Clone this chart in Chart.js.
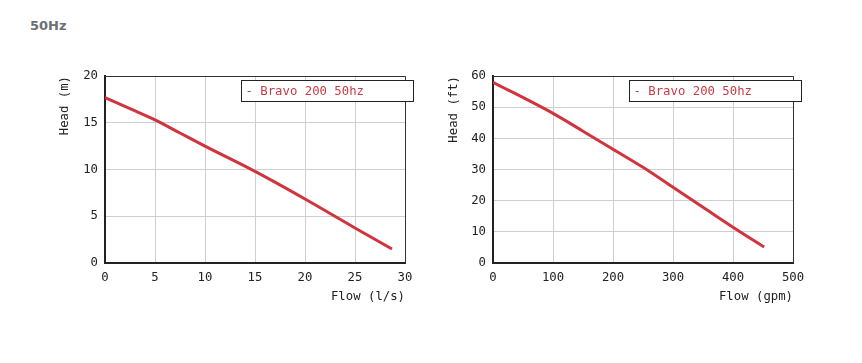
<!DOCTYPE html>
<html>
<head>
<meta charset="utf-8">
<script src="https://cdn.jsdelivr.net/npm/chart.js@4/dist/chart.umd.min.js"></script>
<style>
  html,body{margin:0;padding:0;background:#fff;width:862px;height:363px;overflow:hidden;}
  #title{position:absolute;left:30px;top:18px;font-family:"DejaVu Sans",Verdana,sans-serif;font-weight:bold;font-size:13px;color:#6b6f76;}
  canvas{position:absolute;top:0;}
  #c1{left:0;}
  #c2{left:431px;}
</style>
</head>
<body>
<div id="title">50Hz</div>
<canvas id="c1" width="431" height="320"></canvas>
<canvas id="c2" width="431" height="320"></canvas>
<script>
// ---- data ----
const seriesLabel = 'Bravo 200 50hz';
const flowLs = [0, 2.5, 5, 7.5, 10, 15, 20, 25, 28.7];
const headM = [17.7, 16.5, 15.3, 13.9, 12.5, 9.8, 6.85, 3.75, 1.5];
const flowGpm = [0, 100, 150, 200, 250, 300, 350, 400, 452];
const headFt = [58.0, 48.0, 42.3, 36.5, 30.7, 24.3, 17.9, 11.5, 5.1];
const xTitleMetric = 'Flow (l/s)';
const yTitleMetric = 'Head (m)';
const xTitleUS = 'Flow (gpm)';
const yTitleUS = 'Head (ft)';

const FONT = '"DejaVu Sans Mono", "Liberation Mono", monospace';
const LINE_COLOR = '#d0343c';
const TEXT_COLOR = '#222';

const frameLegend = {
  id: 'frameLegend',
  afterDraw(chart) {
    const ctx = chart.ctx, a = chart.chartArea;
    ctx.save();
    ctx.strokeStyle = '#333';
    ctx.lineWidth = 1;
    ctx.beginPath();
    ctx.moveTo(Math.round(a.left) , Math.round(a.top) + 0.5);
    ctx.lineTo(Math.round(a.right) + 0.5, Math.round(a.top) + 0.5);
    ctx.lineTo(Math.round(a.right) + 0.5, Math.round(a.bottom));
    ctx.stroke();
    // legend box
    const bx = Math.round(a.right - 164) + 0.5, by = Math.round(a.top + 4) + 0.5;
    const bw = 172, bh = 21;
    ctx.fillStyle = '#fff';
    ctx.fillRect(bx, by, bw, bh);
    ctx.strokeStyle = '#222';
    ctx.strokeRect(bx, by, bw, bh);
    ctx.fillStyle = '#c83a44';
    ctx.font = '12.3px ' + FONT;
    ctx.textBaseline = 'middle';
    ctx.textAlign = 'left';
    ctx.fillText('- ' + chart.data.datasets[0].label, bx + 4, by + bh / 2 + 0.5);
    ctx.restore();
  }
};

function makeChart(id, xs, ys, xMax, xStep, yMax, yStep, xTitle, yTitle, yAxisWidth, yTitlePad, rightPad) {
  const pts = xs.map((x, i) => ({x: x, y: ys[i]}));
  return new Chart(document.getElementById(id), {
    type: 'line',
    data: {datasets: [{
      label: seriesLabel,
      data: pts,
      borderColor: LINE_COLOR,
      borderWidth: 3,
      pointRadius: 0,
      cubicInterpolationMode: 'monotone',
      fill: false
    }]},
    options: {
      responsive: false,
      animation: false,
      devicePixelRatio: 1,
      layout: {padding: {top: 76, right: rightPad, left: 0, bottom: 0}},
      plugins: {legend: {display: false}, tooltip: {enabled: false}},
      scales: {
        x: {
          type: 'linear', min: 0, max: xMax,
          ticks: {stepSize: xStep, color: TEXT_COLOR, font: {family: FONT, size: 12.3}, padding: 7, maxRotation: 0},
          grid: {color: '#cfcfcf', lineWidth: 1, drawTicks: false},
          border: {color: '#222', width: 2},
          title: {display: true, text: xTitle, align: 'end', color: TEXT_COLOR, font: {family: FONT, size: 12.3}, padding: {top: 0, bottom: 16}},
          afterFit(s) { s.height = 57; }
        },
        y: {
          type: 'linear', min: 0, max: yMax,
          ticks: {stepSize: yStep, color: TEXT_COLOR, font: {family: FONT, size: 12.3}, padding: 7},
          grid: {color: '#cfcfcf', lineWidth: 1, drawTicks: false},
          border: {color: '#222', width: 2},
          title: {display: true, text: yTitle, align: 'end', color: TEXT_COLOR, font: {family: FONT, size: 12.3}, padding: {top: yTitlePad, bottom: 0}},
          afterFit(s) { s.width = yAxisWidth; }
        }
      }
    },
    plugins: [frameLegend]
  });
}

makeChart('c1', flowLs, headM, 30, 5, 20, 5, xTitleMetric, yTitleMetric, 105, 57, 26);
makeChart('c2', flowGpm, headFt, 500, 100, 60, 10, xTitleUS, yTitleUS, 62, 15, 69);
</script>
</body>
</html>
